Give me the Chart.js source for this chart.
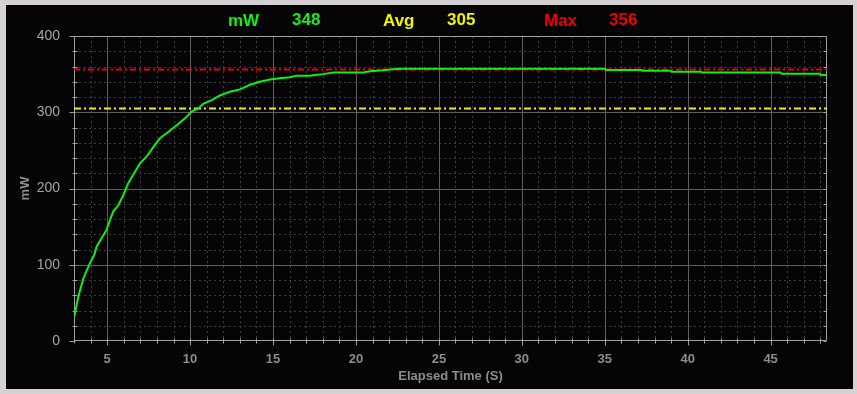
<!DOCTYPE html>
<html>
<head>
<meta charset="utf-8">
<script src="https://cdn.jsdelivr.net/npm/chart.js@4.4.1/dist/chart.umd.min.js"></script>
<style>
  html, body { margin: 0; padding: 0; background: #d4d0d4; }
  canvas { display: block; }
</style>
</head>
<body>
<canvas id="c" width="857" height="394"></canvas>
<script>
// ---- data ----
const timeS = [3.0, 3.06, 3.26, 3.56, 3.96, 4.22, 4.37, 4.67, 4.97, 5.17, 5.37, 5.67, 5.97, 6.27, 6.57, 6.98, 7.38, 7.74, 8.18, 8.68, 9.19, 9.69, 10.09, 10.49, 10.79, 11.3, 11.8, 12.4, 13.0, 13.41, 13.61, 14.21, 14.81, 15.42, 16.02, 16.42, 17.22, 17.53, 18.03, 18.63, 20.44, 20.64, 21.04, 21.64, 22.05, 22.65, 35.0, 35.05, 37.2, 37.25, 38.97, 39.02, 40.8, 40.85, 45.6, 45.65, 47.97, 48.02, 48.4];
const powerMW = [35, 37, 58, 82, 102, 113, 124, 135, 146, 159, 170, 178, 191, 207, 218, 233, 242, 253, 266, 274, 283, 292, 301, 305, 311, 316, 322, 327, 330, 334, 336, 340, 343, 344.5, 346, 348, 348, 349, 350, 352, 352, 353, 354, 355, 356, 357, 357, 355.5, 355.5, 354.5, 354.5, 353, 353, 352, 352, 350.5, 350.5, 349, 349];
const avgValue = 305;
const maxValue = 356;
const headerLabels = ['mW', '348', 'Avg', '305', 'Max', '356'];
const xTickLabels = [5, 10, 15, 20, 25, 30, 35, 40, 45];
const yTickLabels = [0, 100, 200, 300, 400];
const xRange = [3, 48.4];
const yRange = [0, 400];

// ---- styling ----
const BG_GRAY = '#d4d0d4';
const BG_BLACK = '#050507';
const AXIS = '#a0a0a0';
const MAJOR = '#5e5e5e';
const MINOR = '#3c3c3c';

const framePlugin = {
  id: 'frame',
  beforeDraw(chart) {
    const ctx = chart.ctx;
    ctx.save();
    ctx.fillStyle = BG_GRAY;
    ctx.fillRect(0, 0, chart.width, chart.height);
    ctx.fillStyle = BG_BLACK;
    ctx.fillRect(6, 5, 847, 384);
    ctx.restore();
  }
};

const gridPlugin = {
  id: 'customGrid',
  beforeDatasetsDraw(chart) {
    const {ctx, chartArea: a, scales: {x, y}} = chart;
    ctx.save();
    ctx.lineWidth = 1;
    // minor dashed grid
    ctx.strokeStyle = MINOR;
    ctx.setLineDash([2, 3]);
    for (let v = Math.ceil(xRange[0]); v <= xRange[1]; v++) {
      if (v % 5 === 0) continue;
      const px = Math.round(x.getPixelForValue(v)) + 0.5;
      ctx.beginPath(); ctx.moveTo(px, a.top); ctx.lineTo(px, a.bottom); ctx.stroke();
    }
    for (let v = 20; v < yRange[1]; v += 20) {
      if (v % 100 === 0) continue;
      const py = Math.round(y.getPixelForValue(v)) + 0.5;
      ctx.beginPath(); ctx.moveTo(a.left, py); ctx.lineTo(a.right, py); ctx.stroke();
    }
    // major solid grid
    ctx.setLineDash([]);
    ctx.strokeStyle = MAJOR;
    xTickLabels.forEach(v => {
      const px = Math.round(x.getPixelForValue(v)) + 0.5;
      ctx.beginPath(); ctx.moveTo(px, a.top); ctx.lineTo(px, a.bottom); ctx.stroke();
    });
    yTickLabels.forEach(v => {
      if (v === yRange[0] || v === yRange[1]) return;
      const py = Math.round(y.getPixelForValue(v)) + 0.5;
      ctx.beginPath(); ctx.moveTo(a.left, py); ctx.lineTo(a.right, py); ctx.stroke();
    });
    // frame border
    ctx.strokeStyle = AXIS;
    const L = Math.round(a.left) + 0.5, R = Math.round(a.right) - 0.5;
    const T = Math.round(a.top) + 0.5, B = Math.round(a.bottom) - 0.5;
    ctx.beginPath();
    ctx.moveTo(L, T); ctx.lineTo(R, T); ctx.lineTo(R, B); ctx.lineTo(L, B); ctx.closePath();
    ctx.stroke();
    // y ticks
    for (let v = 0; v <= yRange[1]; v += 20) {
      const py = Math.round(y.getPixelForValue(v)) + 0.5;
      const major = v % 100 === 0;
      ctx.beginPath();
      ctx.moveTo(major ? L - 5 : L - 2, py);
      ctx.lineTo(major ? L + 1 : L + 3, py);
      ctx.stroke();
      ctx.beginPath(); ctx.moveTo(R - 3, py); ctx.lineTo(R, py); ctx.stroke();
    }
    // x ticks
    for (let v = Math.ceil(xRange[0]); v <= xRange[1]; v++) {
      const px = Math.round(x.getPixelForValue(v)) + 0.5;
      const major = v % 5 === 0;
      ctx.beginPath();
      ctx.moveTo(px, B - 2);
      ctx.lineTo(px, major ? B + 5 : B + 3);
      ctx.stroke();
    }
    ctx.restore();
  }
};

const headerPlugin = {
  id: 'header',
  afterDraw(chart) {
    const ctx = chart.ctx;
    const items = [
      {t: headerLabels[0], x: 228, y: 26, c: '#14ee14'},
      {t: headerLabels[1], x: 292, y: 25, c: '#14ee14'},
      {t: headerLabels[2], x: 383, y: 26, c: '#f2f200'},
      {t: headerLabels[3], x: 447, y: 25, c: '#f2f200'},
      {t: headerLabels[4], x: 544, y: 26, c: '#f20000'},
      {t: headerLabels[5], x: 609, y: 25, c: '#f20000'}
    ];
    ctx.save();
    ctx.font = 'bold 17px "Liberation Sans", Arial, sans-serif';
    ctx.textBaseline = 'alphabetic';
    ctx.textAlign = 'left';
    items.forEach(it => { ctx.fillStyle = it.c; ctx.fillText(it.t, it.x, it.y); });
    ctx.restore();
  }
};

const flat = (v) => [{x: xRange[0], y: v}, {x: xRange[1], y: v}];

new Chart(document.getElementById('c'), {
  type: 'line',
  data: {
    datasets: [
      {
        label: 'mW',
        data: timeS.map((t, i) => ({x: t, y: powerMW[i]})),
        borderColor: '#10f010',
        borderWidth: 2,
        pointRadius: 0,
        tension: 0,
        order: 0
      },
      {
        label: 'Max',
        data: flat(maxValue),
        borderColor: '#f00000',
        borderWidth: 2,
        borderDash: [6, 3, 2, 3],
        pointRadius: 0,
        order: 1
      },
      {
        label: 'Avg',
        data: flat(avgValue),
        borderColor: '#f0f000',
        borderWidth: 2,
        borderDash: [7, 3, 2, 3],
        pointRadius: 0,
        order: 2
      }
    ]
  },
  options: {
    responsive: false,
    animation: false,
    devicePixelRatio: 1,
    layout: { padding: { left: 0, top: 36, right: 30, bottom: 0 } },
    plugins: { legend: { display: false }, tooltip: { enabled: false } },
    scales: {
      x: {
        type: 'linear',
        min: xRange[0],
        max: xRange[1],
        afterBuildTicks: (s) => { s.ticks = xTickLabels.map(v => ({value: v})); },
        afterFit: (s) => { s.height = 53; },
        grid: { display: false, drawTicks: false },
        border: { display: false },
        ticks: {
          autoSkip: false,
          maxRotation: 0,
          padding: 11,
          color: '#8c8c8c',
          font: { family: '"Liberation Sans", Arial, sans-serif', size: 13, weight: 'bold' }
        },
        title: {
          display: true,
          text: 'Elapsed Time (S)',
          color: '#8c8c8c',
          font: { family: '"Liberation Sans", Arial, sans-serif', size: 13, weight: 'bold' },
          padding: { top: 4, bottom: 10 }
        }
      },
      y: {
        min: yRange[0],
        max: yRange[1],
        afterBuildTicks: (s) => { s.ticks = yTickLabels.map(v => ({value: v})); },
        afterFit: (s) => { s.width = 74; },
        grid: { display: false, drawTicks: false },
        border: { display: false },
        ticks: {
          padding: 14,
          color: '#a4a4a4',
          font: { family: '"Liberation Sans Narrow", "Liberation Sans", sans-serif', size: 14, weight: 'normal' }
        },
        title: {
          display: true,
          text: 'mW',
          color: '#8c8c8c',
          font: { family: '"Liberation Sans", Arial, sans-serif', size: 13, weight: 'bold' },
          padding: { top: 18, bottom: 4 }
        }
      }
    }
  },
  plugins: [framePlugin, gridPlugin, headerPlugin]
});
</script>
</body>
</html>
